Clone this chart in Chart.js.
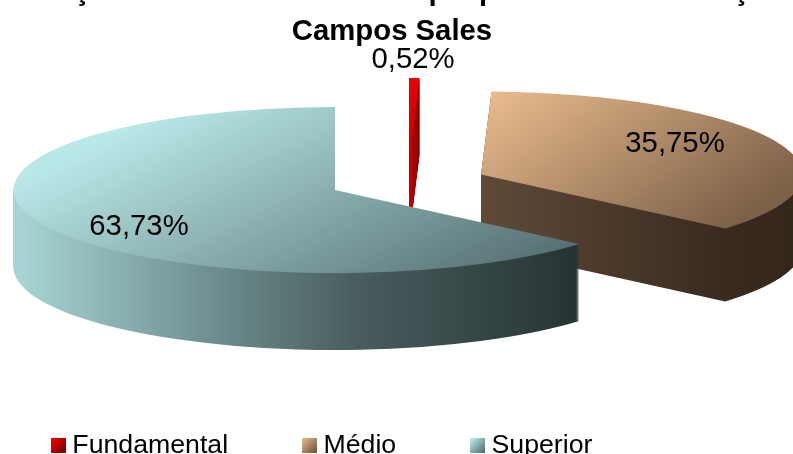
<!DOCTYPE html>
<html>
<head>
<meta charset="utf-8">
<style>
  html, body { margin: 0; padding: 0; background: #fff; overflow: hidden; }
</style>
<script src="https://cdn.jsdelivr.net/npm/chart.js@4"></script>
</head>
<body>
<canvas id="pie" width="793" height="454"></canvas>
<script>
// --- data ---
const categories = ['Fundamental', 'Médio', 'Superior'];
const shares = [0.52, 35.75, 63.73];
const titleLines = ['Formação docentes do Ensino que por nível de formação  ', 'Campos Sales'];

// --- look of the tilted pie (screen pixels) ---
const radiusX = 321.5, radiusY = 83;
const depths = [77, 73, 77];
const sliceOrigin = [{x: 409, y: 161}, {x: 481, y: 174.5}, {x: 335, y: 190}];
const labelPos = [{x: 413, y: 60}, {x: 675, y: 144}, {x: 139, y: 227}];

const topColors = [
    {from: [409, 78], to: [419, 215], stops: ['#ec0000', '#a80000']},
    {from: [491, 85], to: [640, 292], stops: ['#ecbe8f', '#7c6048']},
    {from: [13, 185], to: [149, 455], stops: ['#b9e8e8', '#587274']}
];
const sideColors = [
    {from: 409, to: 419, stops: [[0, '#c80000'], [1, '#8a0000']]},
    {from: 481, to: 800, stops: [[0, '#5f4a37'], [0.76, '#3a2a1f'], [1, '#33261b']]},
    {from: 13, to: 578, stops: [[0, '#a9d7d7'], [0.35, '#6f8f90'], [0.6, '#4a5e5f'], [1, '#263333']]}
];
const swatchColors = [['#ff0000', '#6e0000'], ['#ecbf90', '#6a533d'], ['#c6f6f6', '#4d6a6b']];

// gradient given in screen pixels, returned in the arc's own (unsquashed) space
function faceGradient(ctx, arc, origin, sx, sy, spec) {
    const vx = spec.to[0] - spec.from[0], vy = spec.to[1] - spec.from[1];
    const k = (vx * vx + vy * vy) / (sx * sx * vx * vx + sy * sy * vy * vy);
    const x0 = (spec.from[0] - origin.x) / sx + arc.x;
    const y0 = (spec.from[1] - origin.y) / sy + arc.y;
    const g = ctx.createLinearGradient(x0, y0, x0 + k * sx * vx, y0 + k * sy * vy);
    g.addColorStop(0, spec.stops[0]);
    g.addColorStop(1, spec.stops[1]);
    return g;
}

const tiltedPie = {
    id: 'tiltedPie',
    afterLayout(chart) {
        // legend starts left of where the plugin would place it
        chart.legend.left = -23;
        chart.legend.top = 352;
        // title is centred a little left of the canvas, first line runs off the edges
        chart.titleBlock.left = -60;
        chart.titleBlock.right = 844;
    },
    beforeDatasetDraw(chart) {
        const ctx = chart.ctx;
        chart.getDatasetMeta(0).data.forEach((arc, i) => {
            const o = sliceOrigin[i];
            // side wall: sector swept downwards
            const side = ctx.createLinearGradient(sideColors[i].from, 0, sideColors[i].to, 0);
            sideColors[i].stops.forEach(s => side.addColorStop(s[0], s[1]));
            ctx.save();
            ctx.fillStyle = side;
            for (let d = depths[i]; d > 0; d--) {
                ctx.beginPath();
                ctx.moveTo(o.x, o.y + d);
                ctx.ellipse(o.x, o.y + d, radiusX, radiusY, 0, arc.startAngle, arc.endAngle);
                ctx.closePath();
                ctx.fill();
            }
            ctx.restore();

            // top face: the library's own arc, squashed
            const sx = radiusX / arc.outerRadius, sy = radiusY / arc.outerRadius;
            ctx.save();
            ctx.translate(o.x, o.y);
            ctx.scale(sx, sy);
            ctx.translate(-arc.x, -arc.y);
            arc.options = Object.assign({}, arc.options, {
                backgroundColor: faceGradient(ctx, arc, o, sx, sy, topColors[i])
            });
            arc.draw(ctx);
            ctx.restore();
        });
        return false;
    },
    afterDatasetsDraw(chart) {
        const ctx = chart.ctx;
        ctx.save();
        ctx.font = '29.3px "Liberation Sans"';
        ctx.fillStyle = '#000';
        ctx.textAlign = 'center';
        ctx.textBaseline = 'middle';
        shares.forEach((v, i) => {
            ctx.fillText(v.toFixed(2).replace('.', ',') + '%', labelPos[i].x, labelPos[i].y);
        });
        ctx.restore();
    }
};

function swatch(colors) {
    const c = document.createElement('canvas');
    c.width = c.height = 15;
    const x = c.getContext('2d');
    const g = x.createLinearGradient(0, 0, 15, 15);
    g.addColorStop(0, colors[0]);
    g.addColorStop(1, colors[1]);
    x.fillStyle = g;
    x.fillRect(0, 0, 15, 15);
    return c;
}

Chart.defaults.font.family = '"Liberation Sans"';
Chart.defaults.color = '#000';

new Chart(document.getElementById('pie'), {
    type: 'pie',
    data: {
        labels: categories,
        datasets: [{
            data: shares,
            backgroundColor: swatchColors.map(c => c[0]),
            borderWidth: 0
        }]
    },
    options: {
        responsive: false,
        animation: false,
        events: [],
        plugins: {
            title: {
                display: true,
                text: titleLines,
                color: '#000',
                font: {size: 29.3, weight: 'bold', lineHeight: 1.365},
                padding: {top: -28, bottom: 0}
            },
            legend: {
                position: 'bottom',
                align: 'start',
                labels: {
                    usePointStyle: true,
                    pointStyleWidth: 2,
                    padding: 80,
                    font: {size: 26.7},
                    generateLabels: () => categories.map((name, i) => ({
                        text: name,
                        pointStyle: swatch(swatchColors[i]),
                        fillStyle: swatchColors[i][0],
                        lineWidth: 0,
                        index: i
                    }))
                }
            },
            tooltip: {enabled: false}
        }
    },
    plugins: [tiltedPie]
});
</script>
</body>
</html>
